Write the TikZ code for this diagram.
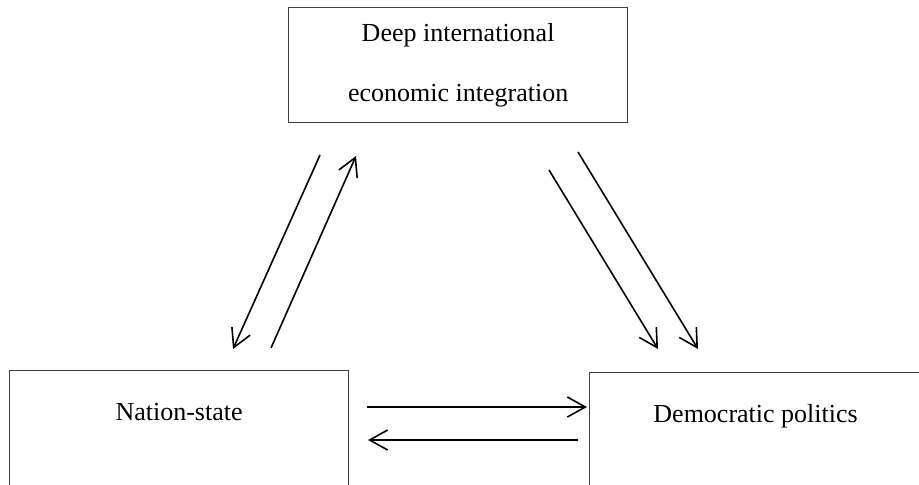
\documentclass[tikz,border=0pt]{standalone}
\usepackage{fontspec}
\setmainfont{Liberation Serif}
\usetikzlibrary{arrows.meta}
\tikzset{
  caja/.style={draw=black!75, line width=0.6pt, minimum width=169.5pt, inner sep=0pt,
    font=\fontsize{13}{30}\selectfont},
  flecha/.style={line width=0.8pt, -{Straight Barb[length=9pt,width=10pt]}}
}
\begin{document}
\begin{tikzpicture}[x=0.5pt,y=-0.5pt]
  \useasboundingbox (0,0) rectangle (919,484);
  \clip (0,0) rectangle (919,484);

  % Cajas
  \node[caja, align=center, minimum height=57.5pt, anchor=north west] (integracion) at (288,7)
    {Deep international\\economic integration};
  \node[caja, text height=25pt, text depth=50pt, anchor=north west] (nacion) at (9,370)
    {Nation-state};
  \node[caja, minimum width=166pt, text height=25pt, text depth=50pt, anchor=north west] (democracia) at (589,372)
    {Democratic politics};

  % Extremos de las flechas
  \coordinate (i1) at (320,155);
  \coordinate (i2) at (356,156);
  \coordinate (i3) at (549,170);
  \coordinate (i4) at (578,152);
  \coordinate (n1) at (233,349);
  \coordinate (n2) at (271,348);
  \coordinate (n3) at (367,407);
  \coordinate (n4) at (368,440);
  \coordinate (d1) at (658,349);
  \coordinate (d2) at (698,349);
  \coordinate (d3) at (587,407);
  \coordinate (d4) at (578,440);

  % Flechas
  \foreach \a/\b in {i1/n1, n2/i2, i3/d1, i4/d2, n3/d3, d4/n4} {
    \draw[flecha] (\a) -- (\b);
  }
\end{tikzpicture}
\end{document}
